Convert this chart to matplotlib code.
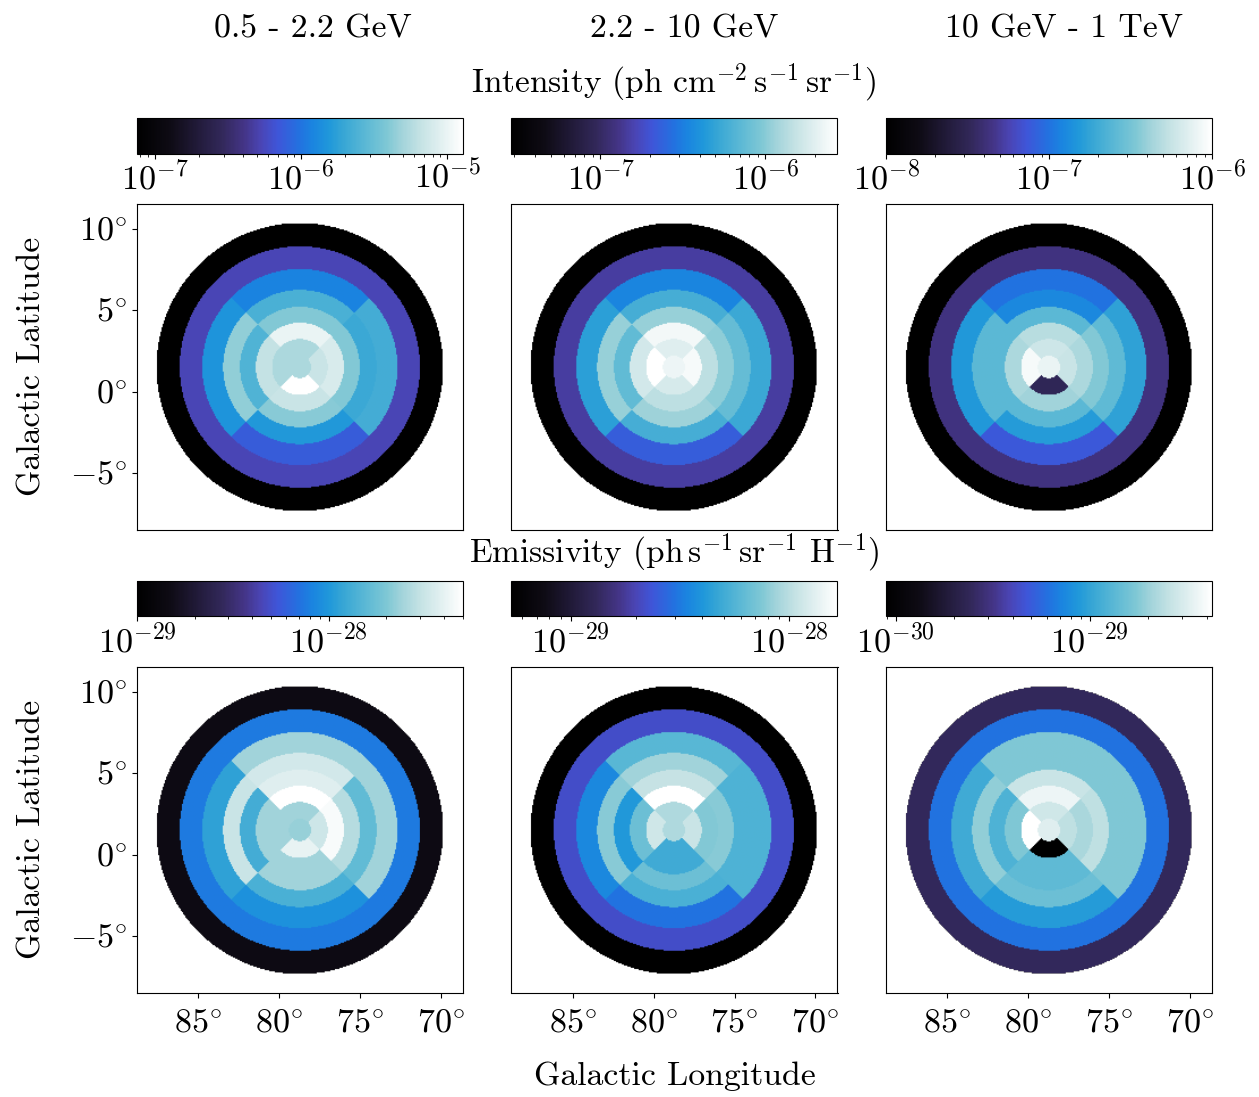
import matplotlib
matplotlib.use("Agg")
import matplotlib.pyplot as plt
import numpy as np
from matplotlib.colors import LinearSegmentedColormap, LogNorm
from matplotlib.ticker import FuncFormatter

plt.rcParams["font.family"] = "cmr10"
plt.rcParams["mathtext.fontset"] = "cm"
plt.rcParams["axes.formatter.use_mathtext"] = True
plt.rcParams["axes.unicode_minus"] = False

# Map geometry, degrees
center_l = 78.72
center_b = 1.52
ring_edges = [0.69, 1.72, 2.72, 3.70, 4.74, 6.03, 7.42, 8.85]

energy_labels = ["0.5 - 2.2 GeV", "2.2 - 10 GeV", "10 GeV - 1 TeV"]
lon_ticks = [85, 80, 75, 70]
lat_ticks = [-5, 0, 5, 10]

# log10 of the map values. Sector rows run from the inner ring outwards,
# each as [top, left, bottom, right]
intensity_low_core = -5.27
intensity_low_sectors = [[-5.27, -5.27, -4.89, -5.16],
                         [-5.00, -5.18, -5.16, -5.09],
                         [-5.40, -5.60, -5.38, -5.40],
                         [-5.63, -5.36, -5.80, -5.69],
                         [-5.92, -5.83, -6.12, -5.65]]
intensity_low_outer = [-6.27, -7.12]
intensity_low_range = [-7.12, -4.89]

intensity_mid_core = -5.64
intensity_mid_sectors = [[-5.70, -5.56, -5.74, -5.60],
                         [-5.62, -5.76, -5.84, -5.84],
                         [-5.96, -6.13, -5.94, -5.98],
                         [-6.23, -5.96, -6.23, -6.11],
                         [-6.47, -6.33, -6.65, -6.27]]
intensity_mid_outer = [-6.83, -7.54]
intensity_mid_range = [-7.54, -5.56]

intensity_high_core = -6.10
intensity_high_sectors = [[-6.22, -6.04, -7.50, -6.24],
                          [-6.30, -6.34, -6.38, -6.34],
                          [-6.60, -6.60, -6.60, -6.46],
                          [-6.90, -6.60, -6.80, -6.58],
                          [-7.00, -6.82, -7.12, -6.76]]
intensity_high_outer = [-7.36, -8.00]
intensity_high_range = [-8.00, -6.00]

emissivity_low_core = -27.64
emissivity_low_sectors = [[-27.62, -27.62, -27.39, -27.49],
                          [-27.30, -27.62, -27.62, -27.33],
                          [-27.42, -27.88, -27.62, -27.56],
                          [-27.47, -27.50, -27.86, -27.79],
                          [-27.62, -27.95, -28.03, -27.62]]
emissivity_low_outer = [-28.12, -28.83]
emissivity_low_range = [-29.00, -27.30]

emissivity_mid_core = -28.03
emissivity_mid_sectors = [[-28.03, -27.94, -28.30, -27.96],
                          [-27.78, -28.18, -28.30, -28.12],
                          [-27.97, -28.39, -28.18, -28.11],
                          [-28.06, -28.11, -28.27, -28.26],
                          [-28.23, -28.45, -28.52, -28.26]]
emissivity_mid_outer = [-28.66, -29.27]
emissivity_mid_range = [-29.27, -27.78]

emissivity_high_core = -28.49
emissivity_high_sectors = [[-28.55, -28.37, -30.05, -28.60],
                           [-28.44, -28.76, -28.86, -28.66],
                           [-28.57, -28.91, -28.86, -28.60],
                           [-28.76, -28.72, -28.82, -28.76],
                           [-28.76, -28.96, -29.04, -28.76]]
emissivity_high_outer = [-29.21, -29.61]
emissivity_high_range = [-30.05, -28.37]

panels = [
    (intensity_low_core, intensity_low_sectors, intensity_low_outer, intensity_low_range),
    (intensity_mid_core, intensity_mid_sectors, intensity_mid_outer, intensity_mid_range),
    (intensity_high_core, intensity_high_sectors, intensity_high_outer, intensity_high_range),
    (emissivity_low_core, emissivity_low_sectors, emissivity_low_outer, emissivity_low_range),
    (emissivity_mid_core, emissivity_mid_sectors, emissivity_mid_outer, emissivity_mid_range),
    (emissivity_high_core, emissivity_high_sectors, emissivity_high_outer, emissivity_high_range),
]

cmap = LinearSegmentedColormap.from_list("ice", [
    (0.00, "#000000"), (0.10, "#0e0b14"), (0.26, "#32285a"), (0.33, "#443588"),
    (0.38, "#4a45b5"), (0.43, "#3f55d8"), (0.50, "#2272e0"), (0.54, "#1a85e0"),
    (0.59, "#2098da"), (0.63, "#35a5d5"), (0.70, "#5ab8d5"), (0.77, "#80c8d5"),
    (0.81, "#a0d3da"), (0.87, "#c4e2e4"), (0.93, "#e0eff0"), (0.97, "#f2f8f8"),
    (1.00, "#ffffff")])

W, H = 1259, 1097
fig = plt.figure(figsize=(W / 100, H / 100), dpi=100)


def px_axes(left, top, width, height):
    return fig.add_axes([left / W, 1 - (top + height) / H, width / W, height / H])


def px_text(x, y, s, **kw):
    fig.text(x / W, 1 - y / H, s, ha="center", va="center", **kw)


def build_map(core, sectors, outer):
    # Sample the ring and sector layout on a grid, as the map pixels are
    step = 0.07
    lon = np.arange(center_l + 10.05, center_l - 10.05, -step)
    lat = np.arange(center_b - 10.05, center_b + 10.05, step)
    ll, bb = np.meshgrid(lon, lat)
    dx = center_l - ll
    dy = bb - center_b
    r = np.hypot(dx, dy)
    top = (dy >= np.abs(dx))
    bottom = (-dy >= np.abs(dx))
    left = (dx < 0) & ~top & ~bottom
    right = (dx >= 0) & ~top & ~bottom
    img = np.full(r.shape, np.nan)
    img[r < ring_edges[0]] = core
    for i, row in enumerate(sectors):
        ring = (r >= ring_edges[i]) & (r < ring_edges[i + 1])
        for mask, value in zip([top, left, bottom, right], row):
            img[ring & mask] = value
    for i, value in enumerate(outer):
        img[(r >= ring_edges[5 + i]) & (r < ring_edges[6 + i])] = value
    extent = [lon[0] + step / 2, lon[-1] - step / 2, lat[0] - step / 2, lat[-1] + step / 2]
    return np.ma.masked_invalid(10.0 ** img), extent


col_left = [137, 511.5, 886]
row_top = [204, 667]
cbar_top = [118, 580.5]
size = 326
tick_size = 24.5
label_size = 24.3

for n, (core, sectors, outer, vrange) in enumerate(panels):
    row, col = n // 3, n % 3
    ax = px_axes(col_left[col], row_top[row], size, size)
    data, extent = build_map(core, sectors, outer)
    im = ax.imshow(data, origin="lower", extent=extent, aspect="auto", cmap=cmap,
                   norm=LogNorm(10.0 ** vrange[0], 10.0 ** vrange[1]),
                   interpolation="bilinear", interpolation_stage="rgba")
    ax.set_xlim(88.78, 68.64)
    ax.set_ylim(-8.5, 11.54)
    ax.set_xticks(lon_ticks)
    ax.set_yticks(lat_ticks)
    deg = FuncFormatter(lambda v, pos: r"$%d^{\circ}$" % v)
    ax.xaxis.set_major_formatter(deg)
    ax.yaxis.set_major_formatter(deg)
    ax.tick_params(labelsize=tick_size, bottom=row == 1, labelbottom=row == 1,
                   left=col == 0, labelleft=col == 0)
    ax.tick_params(axis="x", pad=8.5)

    cax = px_axes(col_left[col], cbar_top[row], size, 35.5)
    cb = fig.colorbar(im, cax=cax, orientation="horizontal")
    decades = np.arange(np.ceil(vrange[0]), np.floor(vrange[1]) + 1)
    cb.set_ticks(10.0 ** decades)
    cb.ax.tick_params(labelsize=tick_size, pad=1)
    cb.ax.xaxis.set_major_formatter(FuncFormatter(lambda v, pos: r"$10^{%d}$" % round(np.log10(v))))

for x, label in zip([313, 684, 1064], energy_labels):
    px_text(x, 29, label, fontsize=label_size)

px_text(674, 83, r"Intensity (ph cm$^{-2}\,$s$^{-1}\,$sr$^{-1}$)", fontsize=24)
px_text(674, 553, r"Emissivity (ph$\,$s$^{-1}\,$sr$^{-1}$ H$^{-1}$)", fontsize=24)
px_text(32, 366, "Galactic Latitude", fontsize=label_size, rotation=90)
px_text(32, 829, "Galactic Latitude", fontsize=label_size, rotation=90)
px_text(675, 1076, "Galactic Longitude", fontsize=label_size)

fig.savefig("out.png", dpi=100)
